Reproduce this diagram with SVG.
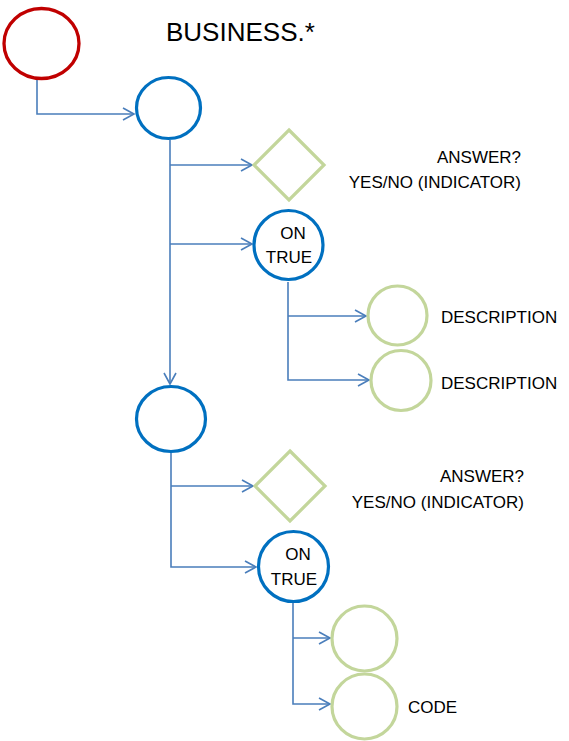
<svg xmlns="http://www.w3.org/2000/svg" width="569" height="741" viewBox="0 0 569 741">
<style>
.red{fill:#fff;stroke:#c00000;stroke-width:3.3}
.blue{fill:#fff;stroke:#0070c0;stroke-width:3.2}
.green{fill:#fff;stroke:#c3d69b;stroke-width:3.2}
.conn{fill:none;stroke:#4a7ebb;stroke-width:1.6}
text{font-family:"Liberation Sans",Arial,sans-serif;fill:#000;font-size:17px}
.title{font-size:26px}
.mid{text-anchor:middle}
.end{text-anchor:end}
</style>
<defs>
<marker id="arr" markerUnits="userSpaceOnUse" markerWidth="14" markerHeight="16" refX="12" refY="7" orient="auto" viewBox="0 0 14 14">
<path d="M1,1 L12,7 L1,13" fill="none" stroke="#4a7ebb" stroke-width="1.6"/>
</marker>
</defs>
<rect width="569" height="741" fill="#fff"/>
<g id="connectors">
<path class="conn" d="M37,80 V114 H134" marker-end="url(#arr)"/>
<path class="conn" d="M170,140 V384" marker-end="url(#arr)"/>
<path class="conn" d="M170,165 H252" marker-end="url(#arr)"/>
<path class="conn" d="M170,244 H252" marker-end="url(#arr)"/>
<path class="conn" d="M288,282 V380 H369" marker-end="url(#arr)"/>
<path class="conn" d="M288,316 H366" marker-end="url(#arr)"/>
<path class="conn" d="M171,453 V567 H256" marker-end="url(#arr)"/>
<path class="conn" d="M171,486 H253" marker-end="url(#arr)"/>
<path class="conn" d="M293,603 V704 H330" marker-end="url(#arr)"/>
<path class="conn" d="M293,638 H330" marker-end="url(#arr)"/>
</g>
<g id="start"><ellipse class="red" cx="41.5" cy="43.5" rx="37.5" ry="35"/></g>
<g id="title"><text class="title" x="166" y="41">BUSINESS.*</text></g>
<g id="node1"><ellipse class="blue" cx="168.5" cy="108" rx="32" ry="30.5"/></g>
<g id="diamond1"><polygon class="green" points="289,130 324,165 289,200 254,165"/>
<text class="end" x="521" y="163">ANSWER?</text>
<text class="end" x="521" y="188">YES/NO (INDICATOR)</text></g>
<g id="ontrue1"><circle class="blue" cx="288.5" cy="245" r="34.5"/>
<text class="mid" x="293" y="239">ON</text>
<text class="mid" x="289" y="263">TRUE</text></g>
<g id="desc1"><circle class="green" cx="397.5" cy="315.5" r="29.5"/>
<text x="441" y="323">DESCRIPTION</text></g>
<g id="desc2"><circle class="green" cx="401" cy="380.5" r="30"/>
<text x="441" y="389">DESCRIPTION</text></g>
<g id="node2"><ellipse class="blue" cx="171" cy="419" rx="34.5" ry="32.5"/></g>
<g id="diamond2"><polygon class="green" points="290,451 325,486 290,521 255,486"/>
<text class="end" x="524" y="482">ANSWER?</text>
<text class="end" x="524" y="508">YES/NO (INDICATOR)</text></g>
<g id="ontrue2"><circle class="blue" cx="293.5" cy="566.5" r="35"/>
<text class="mid" x="298" y="560">ON</text>
<text class="mid" x="294" y="585">TRUE</text></g>
<g id="code1"><circle class="green" cx="364.5" cy="638.5" r="32.5"/></g>
<g id="code2"><circle class="green" cx="364.5" cy="706.5" r="32.5"/>
<text x="408" y="713">CODE</text></g>
</svg>
